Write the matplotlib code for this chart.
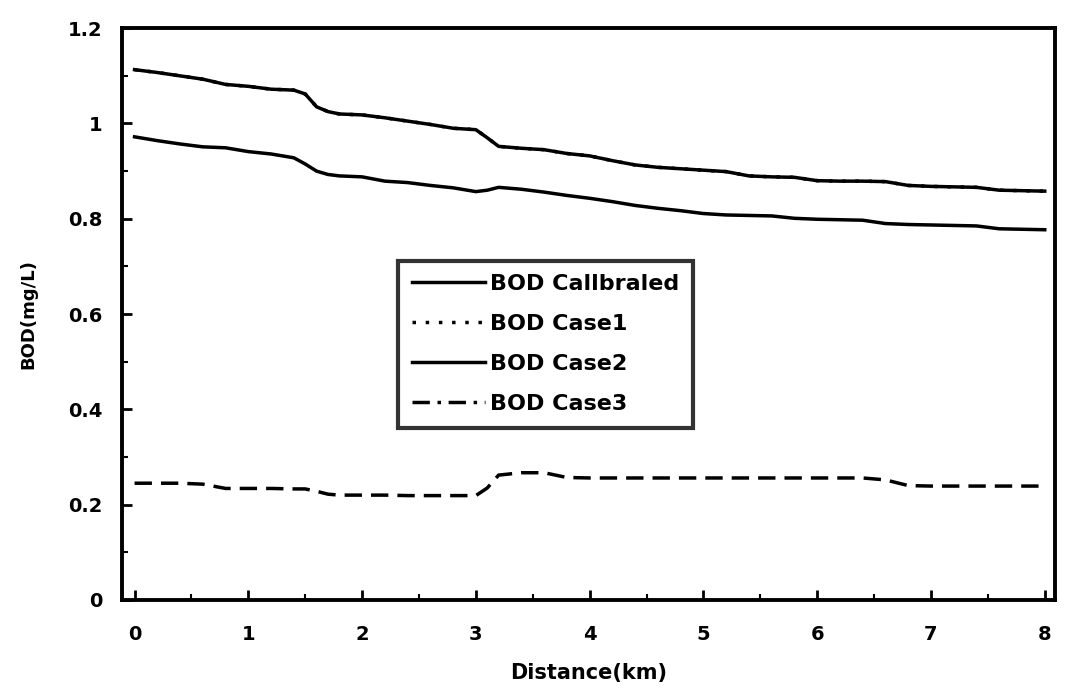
import matplotlib.pyplot as plt
from matplotlib.lines import Line2D
from matplotlib.ticker import MultipleLocator

plt.rcParams['font.family'] = ['DejaVu Sans']
plt.rcParams['font.weight'] = 'bold'

# distance along the river (km)
dist = [0, 0.2, 0.4, 0.6, 0.8, 1.0, 1.2, 1.4, 1.5, 1.6, 1.7, 1.8, 2.0, 2.2, 2.4,
        2.6, 2.8, 3.0, 3.1, 3.2, 3.4, 3.6, 3.8, 4.0, 4.2, 4.4, 4.6, 4.8, 5.0,
        5.2, 5.4, 5.6, 5.8, 6.0, 6.2, 6.4, 6.6, 6.8, 7.0, 7.2, 7.4, 7.6, 7.8, 8.0]

bod_calibrated = [1.113, 1.107, 1.100, 1.093, 1.082, 1.078, 1.072, 1.070, 1.062,
                  1.035, 1.025, 1.020, 1.018, 1.012, 1.005, 0.998, 0.990, 0.987,
                  0.970, 0.952, 0.948, 0.945, 0.937, 0.932, 0.922, 0.913, 0.908,
                  0.905, 0.902, 0.899, 0.890, 0.888, 0.887, 0.880, 0.879, 0.879,
                  0.878, 0.870, 0.868, 0.867, 0.866, 0.860, 0.859, 0.858]

# case1 lies under the calibrated curve in the figure
bod_case1 = list(bod_calibrated)

bod_case2 = [0.972, 0.964, 0.957, 0.951, 0.949, 0.941, 0.936, 0.928, 0.915,
             0.900, 0.893, 0.890, 0.888, 0.879, 0.876, 0.870, 0.865, 0.857,
             0.860, 0.866, 0.862, 0.856, 0.849, 0.843, 0.836, 0.828, 0.822,
             0.817, 0.811, 0.808, 0.807, 0.806, 0.801, 0.799, 0.798, 0.797,
             0.790, 0.788, 0.787, 0.786, 0.785, 0.779, 0.778, 0.777]

bod_case3 = [0.245, 0.245, 0.245, 0.243, 0.234, 0.234, 0.234, 0.233, 0.233,
             0.228, 0.222, 0.220, 0.220, 0.220, 0.219, 0.219, 0.219, 0.219,
             0.235, 0.262, 0.267, 0.267, 0.257, 0.256, 0.256, 0.256, 0.256,
             0.256, 0.256, 0.256, 0.256, 0.256, 0.256, 0.256, 0.256, 0.256,
             0.252, 0.240, 0.239, 0.239, 0.239, 0.239, 0.239, 0.239]

labels = ['BOD Callbraled', 'BOD Case1', 'BOD Case2', 'BOD Case3']

fig = plt.figure(figsize=(10.65, 6.88), dpi=100)
ax = fig.add_axes([0.1146, 0.128, 0.876, 0.831])

lw = 2.5
dotted = (0, (1, 2.8))
dashdot = (0, (5, 2.2, 1, 2.2))
ax.plot(dist, bod_case1, color='black', lw=lw, ls=dotted)
ax.plot(dist, bod_calibrated, color='black', lw=lw)
ax.plot(dist, bod_case2, color='black', lw=lw)
ax.plot(dist, bod_case3, color='black', lw=lw, ls=(0, (5, 2.6)))

ax.set_xlim(-0.11, 8.09)
ax.set_ylim(0, 1.2)
ax.xaxis.set_major_locator(MultipleLocator(1))
ax.xaxis.set_minor_locator(MultipleLocator(0.5))
ax.yaxis.set_minor_locator(MultipleLocator(0.1))
ax.set_yticks([0, 0.2, 0.4, 0.6, 0.8, 1.0, 1.2])
ax.set_yticklabels(['0', '0.2', '0.4', '0.6', '0.8', '1', '1.2'])
ax.tick_params(which='major', direction='in', length=7, width=2, labelsize=14)
ax.tick_params(axis='y', which='major', pad=14)
ax.tick_params(axis='x', which='major', pad=18)
ax.tick_params(which='minor', direction='in', length=4, width=1.5)
for s in ax.spines.values():
    s.set_linewidth(2.8)

ax.set_xlabel('Distance(km)', fontsize=15, fontweight='bold', labelpad=14)
ax.set_ylabel('BOD(mg/L)', fontsize=13, fontweight='bold', labelpad=22)

handles = [Line2D([], [], color='black', lw=lw),
           Line2D([], [], color='black', lw=lw, ls=dotted),
           Line2D([], [], color='black', lw=lw),
           Line2D([], [], color='black', lw=lw, ls=dashdot)]
leg = ax.legend(handles, labels, loc='upper left', bbox_to_anchor=(0.296, 0.593),
                fontsize=16, frameon=True, fancybox=False, edgecolor='black',
                handlelength=3.3, handletextpad=0.25, labelspacing=0.9,
                borderpad=0.6, borderaxespad=0)
leg.get_frame().set_linewidth(3)
for t in leg.get_texts():
    t.set_fontweight('bold')

fig.savefig('out.png', dpi=100)
